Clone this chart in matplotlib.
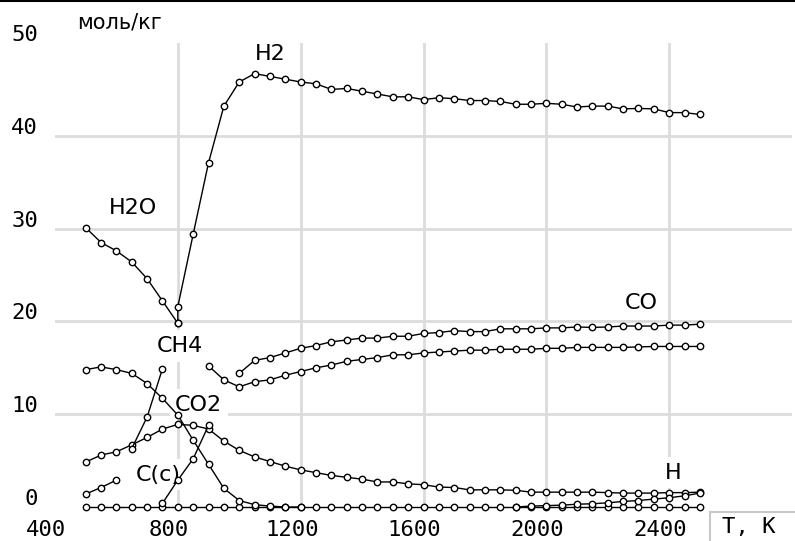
import numpy as np
import matplotlib
matplotlib.use("Agg")
import matplotlib.pyplot as plt
from matplotlib import transforms as mtransforms

MONO = "DejaVu Sans Mono"
SANS = "DejaVu Sans"
plt.rcParams["font.family"] = [MONO, SANS]

# ---------------- data (T in K, values in mol/kg) ----------------
T_H2O = [500, 550, 600, 650, 700, 750, 800]
v_H2O = [30.1, 28.5, 27.6, 26.4, 24.6, 22.2, 19.8]

T_H2 = [800, 800, 850, 900, 950, 1000, 1050, 1100, 1150, 1200, 1250, 1300,
        1350, 1400, 1450, 1500, 1550, 1600, 1650, 1700, 1750, 1800, 1850,
        1900, 1950, 2000, 2050, 2100, 2150, 2200, 2250, 2300, 2350, 2400,
        2450, 2500]
v_H2 = [19.8, 21.6, 29.4, 37.1, 43.2, 45.8, 46.7, 46.4, 46.1, 45.8, 45.6, 45.0,
        45.1, 44.8, 44.5, 44.2, 44.2, 43.9, 44.1, 44.0, 43.8, 43.8, 43.7,
        43.4, 43.4, 43.5, 43.4, 43.1, 43.2, 43.2, 42.9, 42.95, 42.9, 42.5,
        42.5, 42.3]

T_CO = [1000, 1050, 1100, 1150, 1200, 1250, 1300, 1350, 1400, 1450, 1500,
        1550, 1600, 1650, 1700, 1750, 1800, 1850, 1900, 1950, 2000, 2050,
        2100, 2150, 2200, 2250, 2300, 2350, 2400, 2450, 2500]
v_CO = [14.4, 15.8, 16.1, 16.6, 17.1, 17.4, 17.8, 18.0, 18.2, 18.2, 18.4,
        18.4, 18.7, 18.8, 19.0, 18.9, 18.9, 19.2, 19.2, 19.2, 19.3, 19.3,
        19.4, 19.35, 19.4, 19.5, 19.5, 19.5, 19.6, 19.6, 19.7]

T_W2 = [900, 950, 1000, 1050, 1100, 1150, 1200, 1250, 1300, 1350, 1400,
        1450, 1500, 1550, 1600, 1650, 1700, 1750, 1800, 1850, 1900, 1950,
        2000, 2050, 2100, 2150, 2200, 2250, 2300, 2350, 2400, 2450, 2500]
v_W2 = [15.2, 13.7, 12.95, 13.5, 13.7, 14.2, 14.6, 15.0, 15.3, 15.7, 15.9,
        16.1, 16.4, 16.4, 16.6, 16.7, 16.8, 16.9, 16.9, 17.0, 17.0, 17.0,
        17.1, 17.1, 17.2, 17.2, 17.2, 17.2, 17.25, 17.3, 17.3, 17.3, 17.3]

T_A = [500, 550, 600, 650, 700, 750, 800, 850, 900, 950, 1000, 1050, 1100,
       1150, 1200]
v_A = [14.8, 15.1, 14.8, 14.4, 13.3, 11.7, 9.9, 7.2, 4.6, 2.0, 0.7, 0.25,
       0.1, 0.0, 0.0]

T_CO2 = [500, 550, 600, 650, 700, 750, 800, 850, 900, 950, 1000, 1050, 1100,
         1150, 1200, 1250, 1300, 1350, 1400, 1450, 1500, 1550, 1600, 1650,
         1700, 1750, 1800, 1850, 1900, 1950, 2000, 2050, 2100, 2150, 2200,
         2250, 2300, 2350, 2400, 2450, 2500]
v_CO2 = [4.84, 5.6, 5.95, 6.7, 7.5, 8.4, 8.9, 8.8, 8.4, 7.1, 6.1, 5.4, 4.9,
         4.4, 4.0, 3.7, 3.4, 3.2, 3.0, 2.7, 2.7, 2.5, 2.4, 2.15,
         2.1, 1.85, 1.85, 1.85, 1.8, 1.6, 1.6, 1.6, 1.6, 1.6, 1.55,
         1.5, 1.5, 1.5, 1.55, 1.55, 1.6]

T_CH4 = [650, 700, 750]
v_CH4 = [6.3, 9.7, 14.9]

T_S2 = [750, 800, 850, 900]
v_S2 = [0.4, 2.9, 5.2, 8.8]

T_Cc = [500, 550, 600]
v_Cc = [1.4, 2.1, 2.9]

T_H = [1900, 1950, 2000, 2050, 2100, 2150, 2200, 2250, 2300, 2350, 2400,
       2450, 2500]
v_H = [0.0, 0.1, 0.15, 0.2, 0.3, 0.35, 0.45, 0.6, 0.7, 0.85, 1.0, 1.2, 1.5]

T_base = list(range(500, 2501, 50))
v_base = [0.0] * len(T_base)

labels = ["H2", "H2O", "CO", "CH4", "CO2", "C(c)", "H"]
label_T = [1100, 655, 2309, 806, 868, 735, 2413]
label_v = [48.8, 32.2, 21.95, 17.35, 11.0, 3.5, 3.7]

x_ticks = [400, 800, 1200, 1600, 2000, 2400]
y_ticks = [0, 10, 20, 30, 40, 50]

# ---------------- figure ----------------
W, H = 795, 541
fig = plt.figure(figsize=(W / 100, H / 100), dpi=100)
ax = fig.add_axes([55 / W, (H - 507) / H, (792 - 55) / W, (507 - 43) / H])
ax.set_xlim(400, 2800)
ax.set_ylim(0, 50)
for s in ax.spines.values():
    s.set_visible(False)
ax.set_xticks(x_ticks)
ax.set_yticks(y_ticks)
ax.tick_params(length=0, labelbottom=False, labelleft=False)

grid_c = "#dcdcdc"
for yv in y_ticks[1:5]:
    ax.axhline(yv, color=grid_c, lw=2, zorder=0)
for xv in x_ticks[1:]:
    ax.axvline(xv, color=grid_c, lw=2, zorder=0)

fs = 16
# tick labels
for xv in x_ticks:
    tr = ax.get_xaxis_transform() + mtransforms.ScaledTranslation(-9 / 100, -23 / 100, fig.dpi_scale_trans)
    ax.text(xv, 0, str(xv), transform=tr, ha="center", va="center", fontsize=fs, clip_on=False)
for yv in y_ticks:
    tr = ax.get_yaxis_transform() + mtransforms.ScaledTranslation(-17 / 100, 8 / 100, fig.dpi_scale_trans)
    ax.text(0, yv, str(yv), transform=tr, ha="right", va="center", fontsize=fs, clip_on=False)

fig.text(77 / W, 1 - 22 / H, "моль/кг", fontsize=15, ha="left", va="center",
         family=[SANS])

# T, K box
fig.text(749 / W, 1 - 527 / H, "T, K", fontsize=fs, ha="center", va="center")
fig.add_artist(plt.Line2D([710 / W, 710 / W], [0, 1 - 512 / H], color="#c8c8c8", lw=1.5, transform=fig.transFigure))
fig.add_artist(plt.Line2D([710 / W, 1], [1 - 512 / H, 1 - 512 / H], color="#c8c8c8", lw=1.5, transform=fig.transFigure))
# top border line
fig.add_artist(plt.Line2D([0, 1], [1 - 1 / H, 1 - 1 / H], color="black", lw=1.5, transform=fig.transFigure))

# labels with white background
for lab, tx, ty in zip(labels, label_T, label_v):
    ax.text(tx, ty, lab, fontsize=fs, ha="center", va="center", zorder=2,
            family=[SANS],
            bbox=dict(facecolor="white", edgecolor="none", pad=4))

style = dict(color="black", lw=1.0, marker="o", ms=4.6, mfc="white", mec="black",
             mew=1.0, zorder=3, clip_on=False)
series = [(T_base, v_base), (T_A, v_A), (T_CO2, v_CO2), (T_CH4, v_CH4),
          (T_S2, v_S2), (T_Cc, v_Cc), (T_H, v_H), (T_W2, v_W2), (T_CO, v_CO),
          (T_H2O, v_H2O), (T_H2, v_H2)]
for tx, vy in series:
    ax.plot(tx, vy, **style)

fig.savefig("out.png", dpi=100)
